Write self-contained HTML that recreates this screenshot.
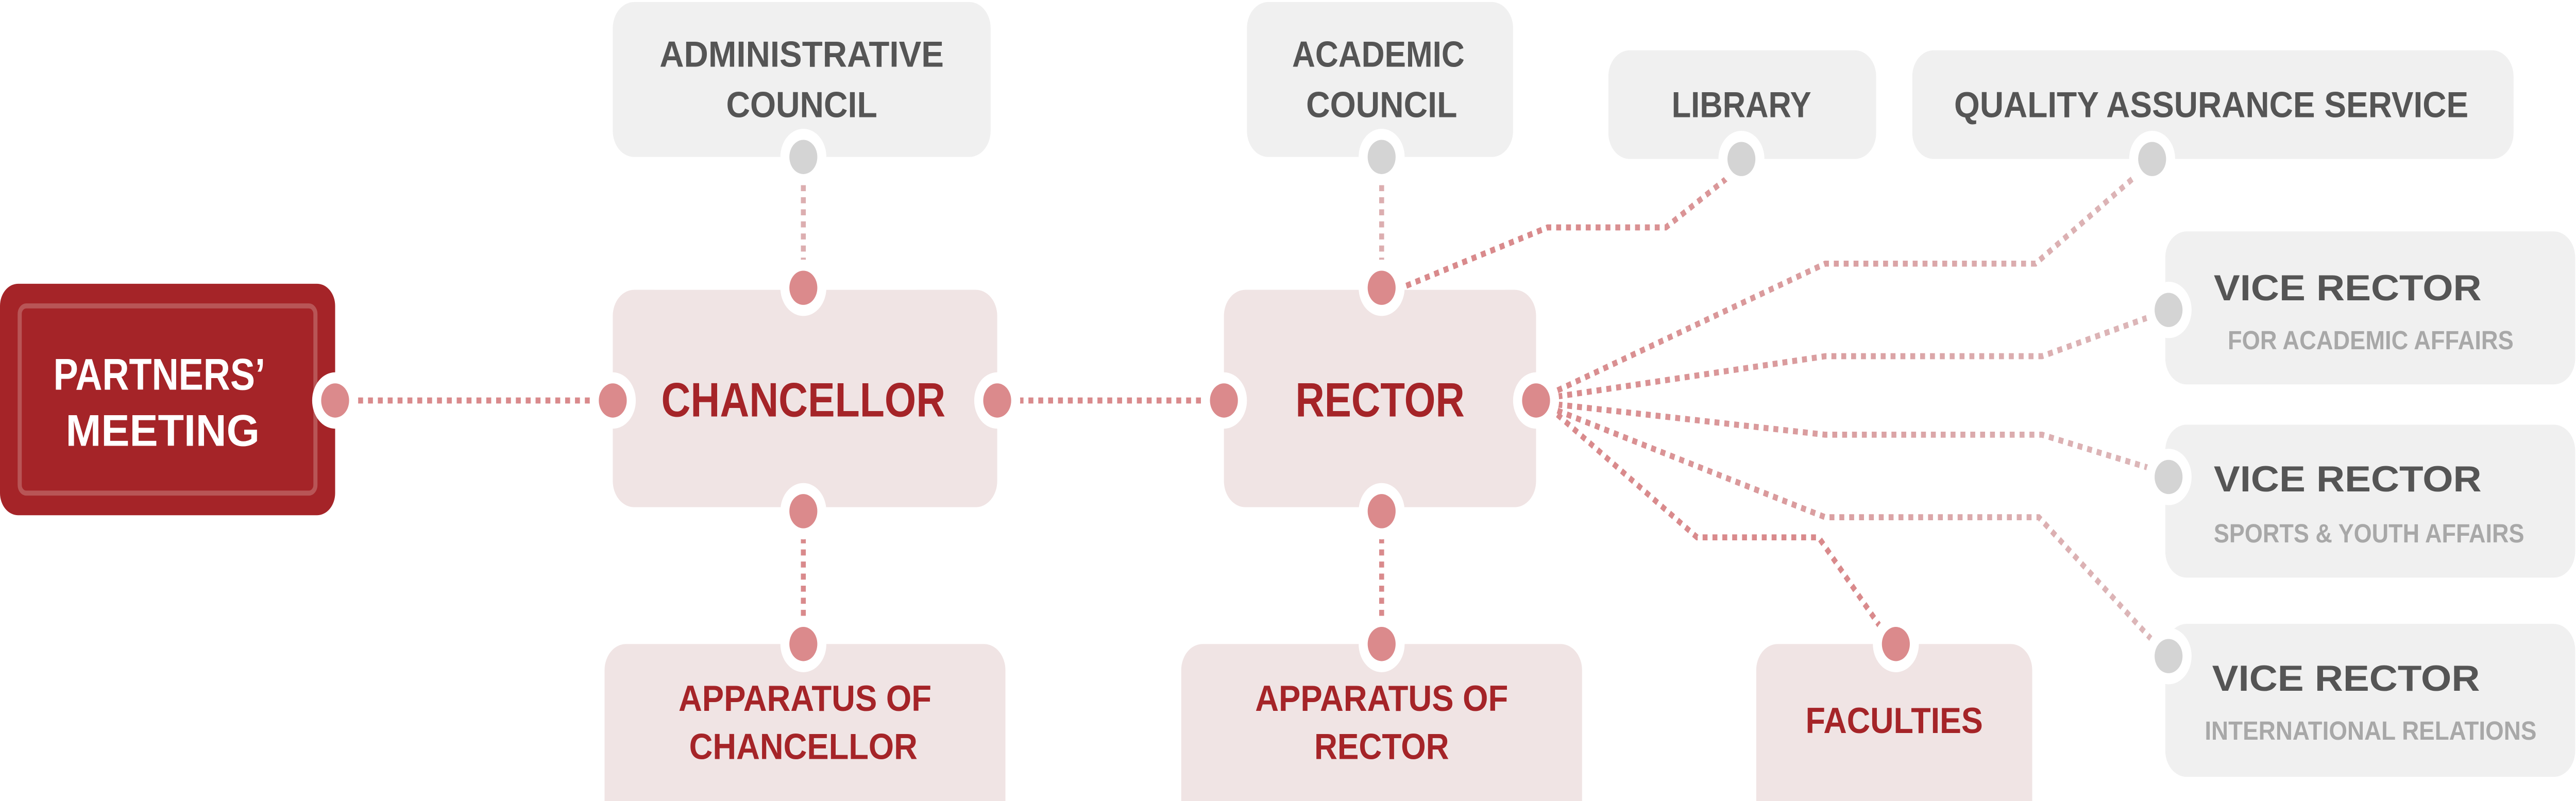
<!DOCTYPE html>
<html><head><meta charset="utf-8"><style>
html,body{margin:0;padding:0;background:#fff;width:100%;height:100%;overflow:hidden;}
svg{display:block;width:100vw;height:100vh;position:absolute;left:0;top:0;}
text{font-family:"Liberation Sans",sans-serif;font-weight:bold;text-anchor:middle;dominant-baseline:central;}
</style></head><body>
<svg viewBox="0 0 1568 398" preserveAspectRatio="none" xmlns="http://www.w3.org/2000/svg">
<defs>
<linearGradient id="g" gradientUnits="userSpaceOnUse" x1="940" y1="0" x2="1320" y2="0">
<stop offset="0" stop-color="#d98a8c"/><stop offset="1" stop-color="#dcb8ba"/>
</linearGradient>
</defs>
<rect x="0" y="141" width="204" height="115" rx="11" fill="#a52428"/>
<rect x="12" y="152" width="180" height="93" rx="4" fill="none" stroke="#b85556" stroke-width="2.5"/>
<rect x="373" y="144" width="234" height="108" rx="13" fill="#f0e4e4"/>
<rect x="745" y="144" width="190" height="108" rx="13" fill="#f0e4e4"/>
<rect x="373" y="1" width="230" height="77" rx="13" fill="#f0f0f0"/>
<rect x="759" y="1" width="162" height="77" rx="13" fill="#f0f0f0"/>
<path d="M368 398V333a13 13 0 0 1 13-13H599a13 13 0 0 1 13 13V398Z" fill="#f0e4e4"/>
<path d="M719 398V333a13 13 0 0 1 13-13H950a13 13 0 0 1 13 13V398Z" fill="#f0e4e4"/>
<path d="M1069 398V333a13 13 0 0 1 13-13H1224a13 13 0 0 1 13 13V398Z" fill="#f0e4e4"/>
<rect x="979" y="25" width="163" height="54" rx="13" fill="#f0f0f0"/>
<rect x="1164" y="25" width="366" height="54" rx="13" fill="#f0f0f0"/>
<rect x="1318" y="115" width="249.5" height="76" rx="13" fill="#f0f0f0"/>
<rect x="1318" y="211" width="249.5" height="76" rx="13" fill="#f0f0f0"/>
<rect x="1318" y="310" width="249.5" height="76" rx="13" fill="#f0f0f0"/>
<g fill="none" stroke="#d98a8c" stroke-width="3" stroke-dasharray="3 3">
<path d="M218 199H360"/><path d="M620 199H732"/>
<path d="M489 92V130" stroke="#dcaeb0"/><path d="M489 267V307"/>
<path d="M841 92V130" stroke="#dcaeb0"/><path d="M841 267V307"/>
</g>
<g fill="none" stroke="url(#g)" stroke-width="3" stroke-dasharray="3 3">
<path d="M856 142L942 113H1014L1052 88"/>
<path d="M948 194L1111 131H1239L1302 86"/>
<path d="M948 197L1111 177H1243L1310 157"/>
<path d="M948 201L1111 216H1243L1310 233"/>
<path d="M948 204L1111 257H1241L1310 318"/>
<path d="M948 206L1033 267H1107L1145 312" stroke="#d98a8c"/>
</g>
<g fill="#fff">
<circle cx="204" cy="199" r="14"/><circle cx="373" cy="199" r="14"/><circle cx="607" cy="199" r="14"/>
<circle cx="489" cy="143" r="14"/><circle cx="489" cy="254" r="14"/><circle cx="489" cy="78" r="14"/><circle cx="489" cy="320" r="14"/>
<circle cx="745" cy="199" r="14"/><circle cx="935" cy="199" r="14"/>
<circle cx="841" cy="143" r="14"/><circle cx="841" cy="254" r="14"/><circle cx="841" cy="78" r="14"/><circle cx="841" cy="320" r="14"/>
<circle cx="1060" cy="79" r="14"/><circle cx="1310" cy="79" r="14"/>
<circle cx="1320" cy="154" r="14"/><circle cx="1320" cy="237" r="14"/><circle cx="1320" cy="326" r="14"/>
<circle cx="1154" cy="320" r="14"/>
</g>
<g fill="#db8a8c">
<circle cx="204" cy="199" r="8.5"/><circle cx="373" cy="199" r="8.5"/><circle cx="607" cy="199" r="8.5"/>
<circle cx="489" cy="143" r="8.5"/><circle cx="489" cy="254" r="8.5"/><circle cx="489" cy="320" r="8.5"/>
<circle cx="745" cy="199" r="8.5"/><circle cx="935" cy="199" r="8.5"/>
<circle cx="841" cy="143" r="8.5"/><circle cx="841" cy="254" r="8.5"/><circle cx="841" cy="320" r="8.5"/>
<circle cx="1154" cy="320" r="8.5"/>
</g>
<g fill="#d4d4d4">
<circle cx="489" cy="78" r="8.5"/><circle cx="841" cy="78" r="8.5"/>
<circle cx="1060" cy="79" r="8.5"/><circle cx="1310" cy="79" r="8.5"/>
<circle cx="1320" cy="154" r="8.5"/><circle cx="1320" cy="237" r="8.5"/><circle cx="1320" cy="326" r="8.5"/>
</g>
<g fill="#fff" font-size="22">
<text x="97" y="186" textLength="129" lengthAdjust="spacingAndGlyphs">PARTNERS’</text>
<text x="99" y="214" textLength="118" lengthAdjust="spacingAndGlyphs">MEETING</text>
</g>
<g fill="#a52428">
<text x="489" y="199" font-size="24" textLength="173" lengthAdjust="spacingAndGlyphs">CHANCELLOR</text>
<text x="840" y="199" font-size="24" textLength="103" lengthAdjust="spacingAndGlyphs">RECTOR</text>
<text x="490" y="347" font-size="18" textLength="154" lengthAdjust="spacingAndGlyphs">APPARATUS OF</text>
<text x="489" y="371" font-size="18" textLength="139" lengthAdjust="spacingAndGlyphs">CHANCELLOR</text>
<text x="841" y="347" font-size="18" textLength="154" lengthAdjust="spacingAndGlyphs">APPARATUS OF</text>
<text x="841" y="371" font-size="18" textLength="82" lengthAdjust="spacingAndGlyphs">RECTOR</text>
<text x="1153" y="358" font-size="18" textLength="108" lengthAdjust="spacingAndGlyphs">FACULTIES</text>
</g>
<g fill="#555" font-size="18">
<text x="488" y="27" textLength="173" lengthAdjust="spacingAndGlyphs">ADMINISTRATIVE</text>
<text x="488" y="52" textLength="92" lengthAdjust="spacingAndGlyphs">COUNCIL</text>
<text x="839" y="27" textLength="105" lengthAdjust="spacingAndGlyphs">ACADEMIC</text>
<text x="841" y="52" textLength="92" lengthAdjust="spacingAndGlyphs">COUNCIL</text>
<text x="1060" y="52" textLength="85" lengthAdjust="spacingAndGlyphs">LIBRARY</text>
<text x="1346" y="52" textLength="313" lengthAdjust="spacingAndGlyphs">QUALITY ASSURANCE SERVICE</text>
<text x="1429" y="143" textLength="163" lengthAdjust="spacingAndGlyphs">VICE RECTOR</text>
<text x="1429" y="238" textLength="163" lengthAdjust="spacingAndGlyphs">VICE RECTOR</text>
<text x="1428" y="337" textLength="163" lengthAdjust="spacingAndGlyphs">VICE RECTOR</text>
</g>
<g fill="#a8a8a8" font-size="13">
<text x="1443" y="169" textLength="174" lengthAdjust="spacingAndGlyphs">FOR ACADEMIC AFFAIRS</text>
<text x="1442" y="265" textLength="189" lengthAdjust="spacingAndGlyphs">SPORTS &amp; YOUTH AFFAIRS</text>
<text x="1443" y="363" textLength="202" lengthAdjust="spacingAndGlyphs">INTERNATIONAL RELATIONS</text>
</g>
</svg>
</body></html>
